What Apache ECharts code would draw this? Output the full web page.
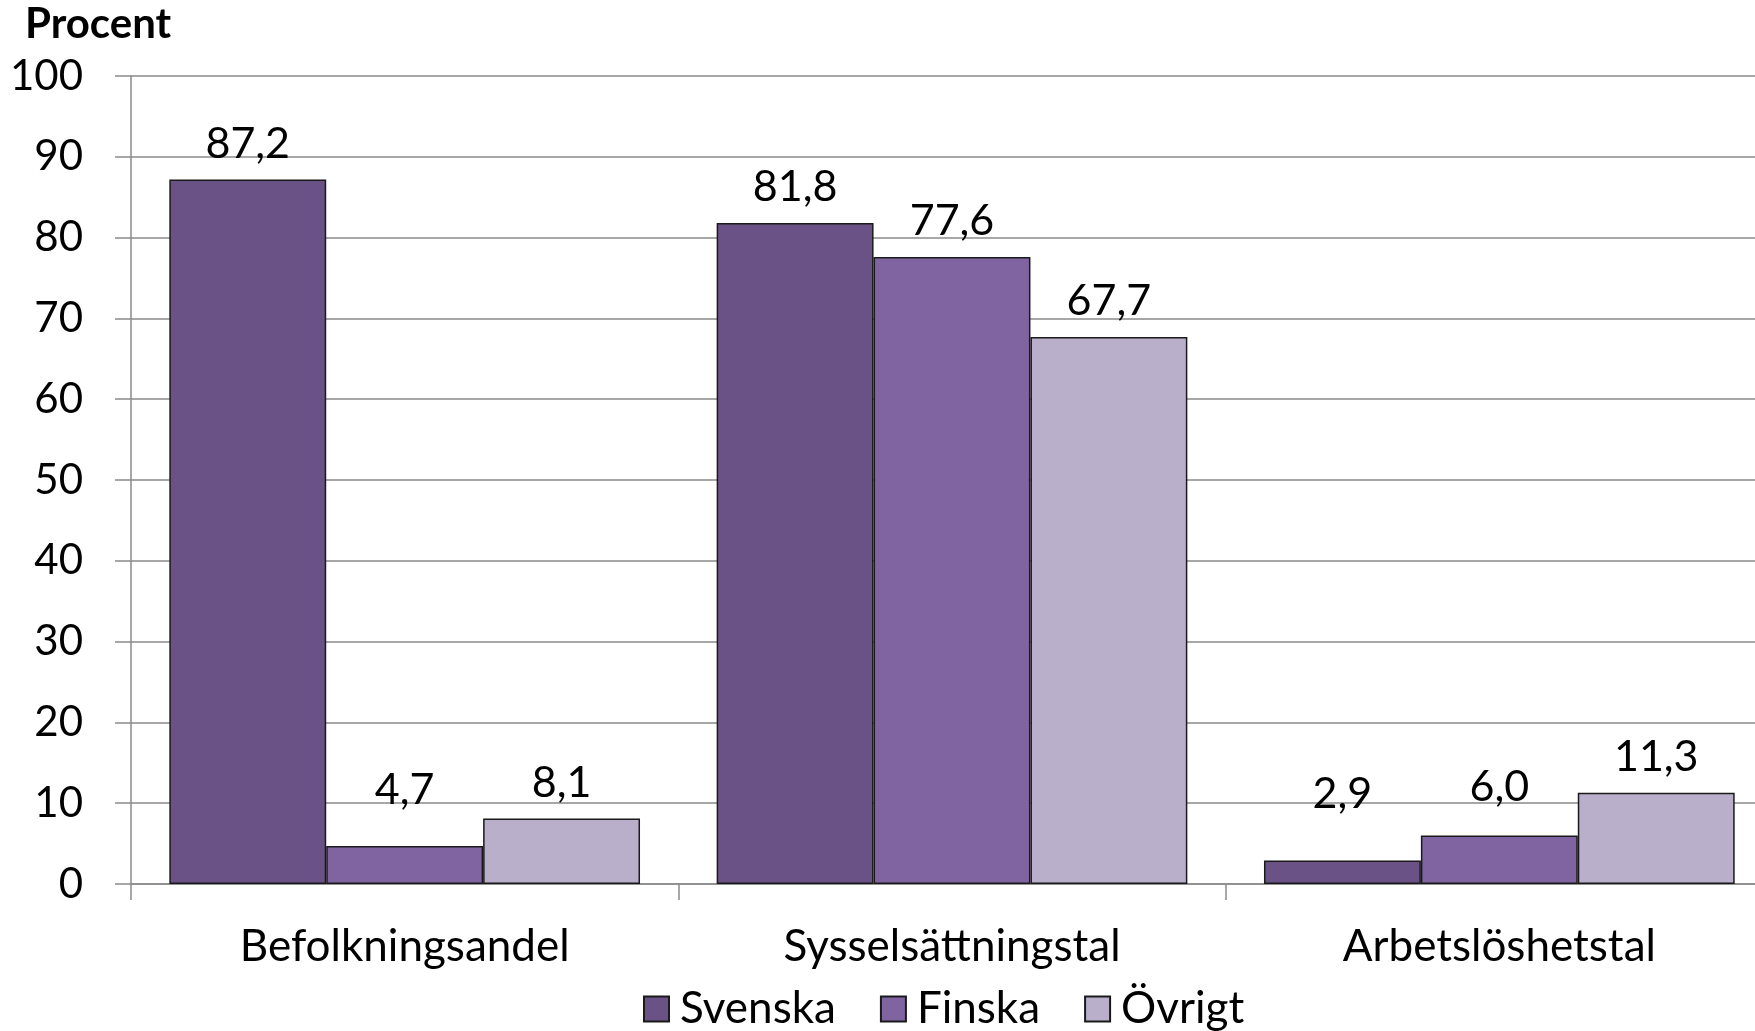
<!DOCTYPE html>
<html>
<head>
<meta charset="utf-8">
<script src="https://cdn.jsdelivr.net/npm/echarts@6/dist/echarts.min.js"></script>
<style>
  html, body { margin: 0; padding: 0; background: #fff; }
  #chart { width: 1755px; height: 1031px; }
</style>
</head>
<body>
<div id="chart"></div>
<script>
// kategorier och serier
const categories = ['Befolkningsandel', 'Sysselsättningstal', 'Arbetslöshetstal'];
const seriesNames = ['Svenska', 'Finska', 'Övrigt'];
const svenska = [87.2, 81.8, 2.9];
const finska = [4.7, 77.6, 6.0];
const ovrigt = [8.1, 67.7, 11.3];
const yTicks = [0, 10, 20, 30, 40, 50, 60, 70, 80, 90, 100];

const colors = ['#6a5186', '#8064a2', '#b9afcb'];
const font = 'Lato, "Open Sans", sans-serif';
const gridColor = '#8a8a8a';

const chart = echarts.init(document.getElementById('chart'));

// små staplar får etiketten lite högre upp, som i originalet
function items(values) {
  return values.map(v => ({
    value: v,
    label: { offset: [0, v < 8 ? -(8.1 - v) * 6 : 0] }
  }));
}

const allValues = [svenska, finska, ovrigt];

chart.setOption({
  animation: false,
  backgroundColor: '#fff',
  textStyle: { fontFamily: font },
  title: {
    text: 'Procent',
    left: 20,
    top: -2,
    textStyle: { fontFamily: font, fontSize: 42, fontWeight: 'bold', color: '#000' }
  },
  legend: {
    data: seriesNames,
    left: 643,
    top: 987,
    padding: 0,
    itemWidth: 25,
    itemHeight: 25,
    itemGap: 44,
    icon: 'rect',
    textStyle: { fontFamily: font, fontSize: 44, color: '#000', padding: [0, 0, 0, 6] }
  },
  grid: {
    left: 131,
    top: 76,
    width: 1642,
    height: 808,
    containLabel: false,
    outerBoundsMode: 'none'
  },
  xAxis: {
    type: 'category',
    data: categories,
    axisLine: { lineStyle: { color: gridColor, width: 1.5 } },
    axisTick: { show: true, length: 16, alignWithLabel: false, lineStyle: { color: gridColor, width: 1.5 } },
    axisLabel: { fontFamily: font, fontSize: 44, color: '#000', margin: 41 }
  },
  yAxis: {
    type: 'value',
    min: yTicks[0],
    max: yTicks[yTicks.length - 1],
    interval: 10,
    axisLine: { show: true, lineStyle: { color: gridColor, width: 1.5 } },
    axisTick: { show: true, length: 16, lineStyle: { color: gridColor, width: 1.5 } },
    axisLabel: { fontFamily: font, fontSize: 42, color: '#000', margin: 48 },
    splitLine: { lineStyle: { color: gridColor, width: 1.5 } }
  },
  series: seriesNames.map((name, i) => ({
    name: name,
    type: 'bar',
    data: items(allValues[i]),
    barGap: '0%',
    barCategoryGap: '14%',
    itemStyle: { color: colors[i], borderColor: '#1a1a1a', borderWidth: 1.5 },
    label: {
      show: true,
      position: 'top',
      distance: 14,
      fontFamily: font,
      fontSize: 43,
      color: '#000',
      formatter: p => p.value.toFixed(1).replace('.', ',')
    }
  }))
});
</script>
</body>
</html>
